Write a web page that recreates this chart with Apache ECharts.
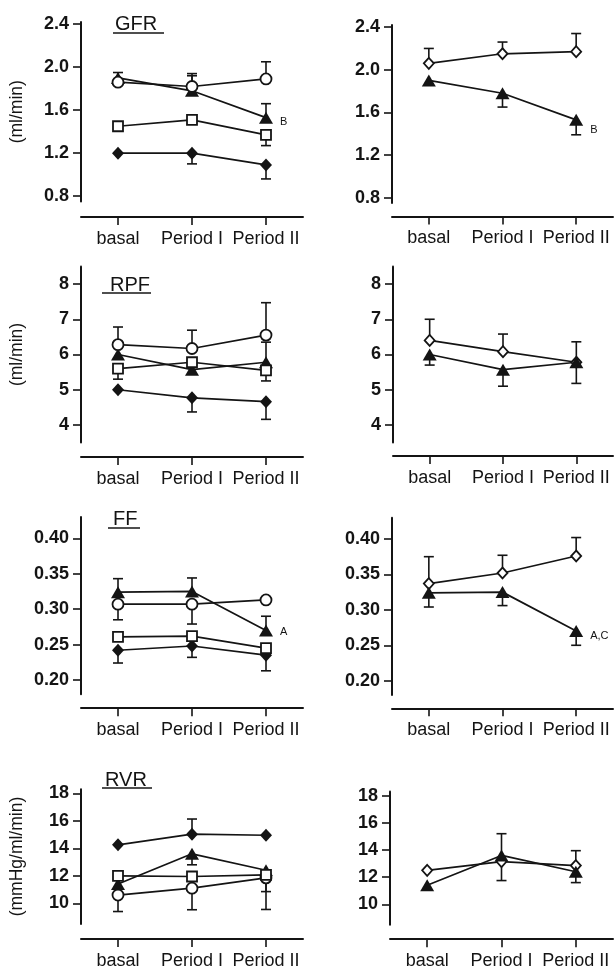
<!DOCTYPE html>
<html>
<head>
<meta charset="utf-8">
<title>GFR / RPF / FF / RVR</title>
<script src="https://cdn.jsdelivr.net/npm/echarts@6/dist/echarts.min.js"></script>
<style>
  html, body { margin: 0; padding: 0; background: #fff; }
  #main { width: 615px; height: 974px; }
</style>
</head>
<body>
<div id="main"></div>
<script>
// x categories
const periods = ['basal', 'Period I', 'Period II']

// GFR (ml/min)
const gfrTri = [1.90, 1.78, 1.53]
const gfrCirc = [1.86, 1.82, 1.89]
const gfrSq = [1.45, 1.51, 1.37]
const gfrDia = [1.20, 1.20, 1.09]
const gfrOpenDia = [2.06, 2.15, 2.17]
// error bars: signed length (+ up / - down), null = none drawn
const gfrTriErrL = [0.05, 0.14, 0.13]
const gfrCircErr = [null, 0.12, 0.16]
const gfrSqErr = [null, null, -0.10]
const gfrDiaErr = [null, -0.10, -0.13]
const gfrOpenDiaErr = [0.14, 0.11, 0.17]
const gfrTriErrR = [null, -0.13, -0.14]
const gfrTicks = [0.8, 1.2, 1.6, 2.0, 2.4]

// RPF (ml/min)
const rpfTri = [6.0, 5.57, 5.78]
const rpfCirc = [6.28, 6.17, 6.55]
const rpfSq = [5.6, 5.78, 5.55]
const rpfDia = [5.0, 4.77, 4.66]
const rpfOpenDia = [6.4, 6.08, 5.78]
const rpfTriErrL = [null, null, 0.57]
const rpfCircErr = [0.5, 0.52, 0.92]
const rpfSqErr = [-0.3, null, -0.3]
const rpfDiaErr = [null, -0.4, -0.5]
const rpfOpenDiaErr = [0.6, 0.5, 0.58]
const rpfTriErrR = [-0.3, -0.47, -0.6]
const rpfTicks = [4, 5, 6, 7, 8]

// FF
const ffTri = [0.324, 0.325, 0.270]
const ffCirc = [0.307, 0.307, 0.313]
const ffSq = [0.261, 0.262, 0.245]
const ffDia = [0.242, 0.248, 0.235]
const ffOpenDia = [0.337, 0.352, 0.376]
const ffTriErrL = [0.019, 0.019, 0.02]
const ffCircErr = [-0.022, -0.028, null]
const ffSqErr = [null, null, null]
const ffDiaErr = [-0.018, -0.016, -0.022]
const ffOpenDiaErr = [0.038, 0.025, 0.026]
const ffTriErrR = [-0.02, -0.019, -0.02]
const ffTicks = [0.20, 0.25, 0.30, 0.35, 0.40]

// RVR (mmHg/ml/min)
const rvrTri = [11.4, 13.6, 12.4]
const rvrCirc = [10.6, 11.1, 11.85]
const rvrSq = [12.0, 11.95, 12.07]
const rvrDia = [14.25, 15.03, 14.95]
const rvrOpenDia = [12.5, 13.15, 12.85]
const rvrTriErrL = [null, -0.8, -1.55]
const rvrCircErr = [-1.2, -1.57, -2.3]
const rvrSqErr = [null, null, null]
const rvrDiaErr = [null, 1.1, null]
const rvrOpenDiaErr = [null, -1.4, 1.1]
const rvrTriErrR = [null, 1.6, -0.8]
const rvrTicks = [10, 12, 14, 16, 18]

// significance notes next to the triangles
const gfrNotes = [null, null, 'B']
const ffNotesL = [null, null, 'A']
const ffNotesR = [null, null, 'A,C']

const ink = '#141414'
const font = "'Liberation Sans', Arial, Helvetica, sans-serif"

const marks = {
  tri: { symbol: 'triangle', size: [14, 12], fill: true },
  circ: { symbol: 'circle', size: 11, fill: false },
  sq: { symbol: 'rect', size: 10, fill: false },
  dia: { symbol: 'diamond', size: [12, 13], fill: true },
  openDia: { symbol: 'diamond', size: [10, 11], fill: false }
}

// panel layout: grid [left, top, width, height], x axis pushed down by xOff
const panels = [
  { grid: [81, 22, 222, 179.5], xOff: 15.5, min: 0.75, max: 2.42, ticks: gfrTicks, dec: 1, name: '(ml/min)', noteDy: 4,
    lines: [
      { vals: gfrTri, err: gfrTriErrL, mark: 'tri', notes: gfrNotes },
      { vals: gfrCirc, err: gfrCircErr, mark: 'circ' },
      { vals: gfrDia, err: gfrDiaErr, mark: 'dia' },
      { vals: gfrSq, err: gfrSqErr, mark: 'sq' }
    ] },
  { grid: [392, 25, 221, 178], xOff: 13.5, min: 0.75, max: 2.42, ticks: gfrTicks, dec: 1, noteDy: 10,
    lines: [
      { vals: gfrOpenDia, err: gfrOpenDiaErr, mark: 'openDia' },
      { vals: gfrTri, err: gfrTriErrR, mark: 'tri', notes: gfrNotes }
    ] },
  { grid: [81, 266.4, 222, 176.2], xOff: 14.4, min: 3.5, max: 8.5, ticks: rpfTicks, dec: 0, name: '(ml/min)',
    lines: [
      { vals: rpfTri, err: rpfTriErrL, mark: 'tri' },
      { vals: rpfCirc, err: rpfCircErr, mark: 'circ' },
      { vals: rpfDia, err: rpfDiaErr, mark: 'dia' },
      { vals: rpfSq, err: rpfSqErr, mark: 'sq' }
    ] },
  { grid: [393, 266.4, 220, 176.2], xOff: 13.4, min: 3.5, max: 8.5, ticks: rpfTicks, dec: 0,
    lines: [
      { vals: rpfOpenDia, err: rpfOpenDiaErr, mark: 'openDia' },
      { vals: rpfTri, err: rpfTriErrR, mark: 'tri' }
    ] },
  { grid: [81, 517, 222, 177.2], xOff: 14, min: 0.18, max: 0.43, ticks: ffTicks, dec: 2, noteDy: 2,
    lines: [
      { vals: ffTri, err: ffTriErrL, mark: 'tri', notes: ffNotesL },
      { vals: ffCirc, err: ffCircErr, mark: 'circ' },
      { vals: ffDia, err: ffDiaErr, mark: 'dia' },
      { vals: ffSq, err: ffSqErr, mark: 'sq' }
    ] },
  { grid: [392, 517.7, 221, 177.2], xOff: 13.4, min: 0.18, max: 0.43, ticks: ffTicks, dec: 2, noteDy: 5,
    lines: [
      { vals: ffOpenDia, err: ffOpenDiaErr, mark: 'openDia' },
      { vals: ffTri, err: ffTriErrR, mark: 'tri', notes: ffNotesR }
    ] },
  { grid: [81, 789.2, 222, 134.7], xOff: 15, min: 8.5, max: 18.3, ticks: rvrTicks, dec: 0, name: '(mmHg/ml/min)',
    lines: [
      { vals: rvrTri, err: rvrTriErrL, mark: 'tri' },
      { vals: rvrCirc, err: rvrCircErr, mark: 'circ' },
      { vals: rvrDia, err: rvrDiaErr, mark: 'dia' },
      { vals: rvrSq, err: rvrSqErr, mark: 'sq' }
    ] },
  { grid: [390, 791.6, 223, 133.1], xOff: 14.5, min: 8.5, max: 18.3, ticks: rvrTicks, dec: 0,
    lines: [
      { vals: rvrOpenDia, err: rvrOpenDiaErr, mark: 'openDia' },
      { vals: rvrTri, err: rvrTriErrR, mark: 'tri' }
    ] }
]

// underlined panel titles (left column)
const titles = [
  { text: 'GFR', x: 115, y: 24, ul: [113, 164, 33] },
  { text: 'RPF', x: 110, y: 285, ul: [102, 151, 293] },
  { text: 'FF', x: 113, y: 519.5, ul: [108, 140, 528] },
  { text: 'RVR', x: 105, y: 780, ul: [102, 152, 788] }
]

// vertical error bar with a cap at the end
const renderErr = (params, api) => {
  const i = api.value(0)
  const v = api.value(1)
  const d = api.value(2)
  const p0 = api.coord([i, v])
  const p1 = api.coord([i, v + d])
  const st = { stroke: ink, lineWidth: 1.6 }
  return {
    type: 'group',
    children: [
      { type: 'line', shape: { x1: p0[0], y1: p0[1], x2: p1[0], y2: p1[1] }, style: st },
      { type: 'line', shape: { x1: p1[0] - 5, y1: p1[1], x2: p1[0] + 5, y2: p1[1] }, style: st }
    ]
  }
}

const grids = []
const xAxes = []
const yAxes = []
const series = []

panels.forEach((p, k) => {
  grids.push({ left: p.grid[0], top: p.grid[1], width: p.grid[2], height: p.grid[3], containLabel: false, outerBoundsMode: 'none' })

  xAxes.push({
    gridIndex: k,
    type: 'category',
    data: periods,
    boundaryGap: true,
    offset: p.xOff,
    axisLine: { show: true, lineStyle: { color: ink, width: 2 } },
    axisTick: { show: true, alignWithLabel: true, interval: 0, length: 8, lineStyle: { color: ink, width: 1.6 } },
    axisLabel: { color: ink, fontSize: 18, fontFamily: font, margin: 13, interval: 0 },
    splitLine: { show: false }
  })

  yAxes.push({
    gridIndex: k,
    type: 'value',
    min: p.min,
    max: p.max,
    name: p.name || '',
    nameLocation: 'middle',
    nameRotate: 90,
    nameGap: 55,
    nameTextStyle: { color: ink, fontSize: 17.5, fontFamily: font },
    axisLine: { show: true, lineStyle: { color: ink, width: 2 } },
    axisTick: { show: true, length: 8, customValues: p.ticks, lineStyle: { color: ink, width: 1.6 } },
    axisLabel: {
      customValues: p.ticks,
      formatter: (v) => Number(v).toFixed(p.dec),
      color: ink, fontSize: 18, fontWeight: 'bold', fontFamily: font, margin: 12
    },
    splitLine: { show: false }
  })

  // error bars first so markers cover them
  const errData = []
  p.lines.forEach((l) => {
    l.err.forEach((d, i) => {
      if (d !== null) errData.push([i, l.vals[i], d])
    })
  })
  series.push({
    type: 'custom',
    xAxisIndex: k,
    yAxisIndex: k,
    renderItem: renderErr,
    data: errData,
    clip: false,
    silent: true,
    z: 1
  })

  p.lines.forEach((l) => {
    const m = marks[l.mark]
    const data = l.vals.map((v, i) => {
      const note = l.notes ? l.notes[i] : null
      if (!note) return v
      return {
        value: v,
        label: {
          show: true, formatter: note, position: 'right', distance: 7,
          offset: [0, p.noteDy || 0],
          color: ink, fontSize: 11, fontFamily: font
        }
      }
    })
    series.push({
      type: 'line',
      xAxisIndex: k,
      yAxisIndex: k,
      data: data,
      symbol: m.symbol,
      symbolSize: m.size,
      showAllSymbol: true,
      lineStyle: { color: ink, width: 1.7 },
      itemStyle: {
        color: m.fill ? ink : '#fff',
        borderColor: ink,
        borderWidth: m.fill ? 0 : 1.8
      },
      emphasis: { disabled: true },
      silent: true,
      z: 3
    })
  })
})

const graphics = []
titles.forEach((t) => {
  graphics.push({
    type: 'text',
    x: t.x,
    y: t.y,
    style: { text: t.text, fill: ink, font: '20px ' + font, textVerticalAlign: 'middle' }
  })
  graphics.push({
    type: 'line',
    shape: { x1: t.ul[0], y1: t.ul[2], x2: t.ul[1], y2: t.ul[2] },
    style: { stroke: ink, lineWidth: 1.5 }
  })
})

const myChart = echarts.init(document.getElementById('main'), null, { renderer: 'canvas' })
myChart.setOption({
  animation: false,
  backgroundColor: '#fff',
  textStyle: { fontFamily: font },
  grid: grids,
  xAxis: xAxes,
  yAxis: yAxes,
  series: series,
  graphic: graphics
})
</script>
</body>
</html>
